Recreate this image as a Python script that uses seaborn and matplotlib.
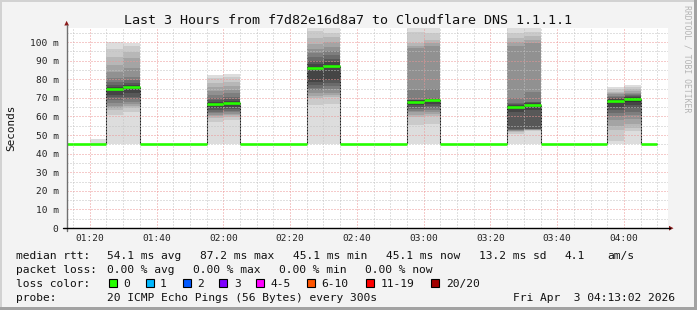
import matplotlib
matplotlib.use("Agg")
import matplotlib.pyplot as plt
import seaborn as sns
import pandas as pd
from matplotlib.patches import Rectangle, Polygon
from matplotlib.lines import Line2D

# ---------------- data ----------------
step_starts = ["01:10", "01:15", "01:20", "01:25", "01:30", "01:35", "01:40", "01:45", "01:50",
               "01:55", "02:00", "02:05", "02:10", "02:15", "02:20", "02:25", "02:30", "02:35",
               "02:40", "02:45", "02:50", "02:55", "03:00", "03:05", "03:10", "03:15", "03:20",
               "03:25", "03:30", "03:35", "03:40", "03:45", "03:50", "03:55", "04:00", "04:05"]
median_ms = [45.1, 45.1, 45.1, 74.7, 76.0, 45.1, 45.1, 45.1, 45.1,
             66.7, 67.4, 45.1, 45.1, 45.1, 45.1, 86.2, 87.2, 45.1,
             45.1, 45.1, 45.1, 67.9, 68.6, 45.1, 45.1, 45.1, 45.1,
             65.2, 66.1, 45.1, 45.1, 45.1, 45.1, 68.5, 69.2, 45.1]

smoke_steps = ["01:20", "01:25", "01:30", "01:55", "02:00", "02:25", "02:30",
               "02:55", "03:00", "03:25", "03:30", "03:55", "04:00"]
smoke_pings = [
    [45.1, 45.1, 45.1, 45.1, 45.1, 45.1, 45.1, 45.1, 45.1, 45.1, 45.1, 45.1, 45.1, 45.1, 45.1, 45.1, 45.1, 45.1, 45.1, 47.8],
    [45.1, 60.8, 63.4, 64.5, 65.5, 67.0, 69.0, 70.5, 71.5, 74.2, 75.2, 76.0, 76.9, 78.5, 80.5, 84.0, 87.6, 92.0, 96.1, 100.2],
    [45.1, 62.5, 64.3, 65.5, 66.5, 68.0, 69.5, 70.6, 72.5, 75.3, 76.3, 77.0, 77.8, 79.5, 81.4, 86.0, 91.2, 94.5, 97.8, 99.6],
    [45.1, 57.2, 59.0, 60.0, 60.8, 61.8, 62.6, 63.4, 64.5, 66.2, 67.2, 67.8, 68.8, 70.0, 71.5, 73.5, 75.6, 78.0, 80.5, 82.3],
    [45.1, 58.0, 59.5, 60.5, 61.3, 62.2, 63.0, 64.0, 65.2, 67.0, 67.8, 68.4, 69.2, 70.5, 72.4, 74.2, 76.3, 78.5, 81.0, 82.8],
    [45.1, 66.1, 69.7, 71.0, 72.4, 74.0, 75.5, 77.0, 78.7, 85.5, 86.8, 88.0, 90.0, 91.8, 94.0, 96.1, 99.0, 102.0, 106.0, 107.3],
    [45.1, 66.7, 70.6, 71.5, 72.4, 74.5, 76.5, 78.0, 79.6, 86.6, 87.6, 89.0, 90.7, 93.0, 95.0, 97.5, 100.0, 102.5, 104.7, 107.3],
    [45.1, 55.4, 59.8, 61.0, 62.2, 63.0, 64.0, 65.0, 66.0, 67.5, 68.3, 68.6, 68.8, 69.0, 74.2, 96.8, 98.0, 99.5, 105.2, 107.7],
    [45.1, 56.0, 60.0, 61.3, 62.5, 63.5, 64.5, 65.5, 66.5, 68.2, 69.0, 69.3, 69.5, 69.7, 74.6, 98.0, 99.5, 101.0, 105.0, 107.7],
    [45.1, 50.5, 51.5, 52.0, 52.3, 52.5, 52.7, 53.0, 62.5, 64.8, 65.6, 66.0, 66.5, 67.0, 69.7, 98.0, 100.0, 102.0, 105.0, 107.7],
    [45.1, 52.2, 52.6, 52.8, 52.9, 53.0, 53.1, 53.4, 63.4, 65.5, 66.4, 67.0, 67.5, 68.0, 73.3, 99.3, 101.0, 103.0, 105.5, 107.7],
    [45.1, 47.0, 52.7, 55.0, 58.0, 60.0, 61.7, 63.5, 65.2, 67.5, 68.8, 69.5, 70.0, 70.5, 71.0, 72.0, 72.5, 73.3, 74.5, 75.6],
    [45.1, 52.0, 54.0, 56.0, 58.5, 60.5, 62.5, 64.5, 66.0, 68.0, 69.6, 70.2, 70.8, 71.5, 72.0, 72.8, 73.5, 74.5, 75.8, 76.9],
]

x_ticks = ["01:20", "01:40", "02:00", "02:20", "02:40", "03:00", "03:20", "03:40", "04:00"]
y_ticks = [0, 10, 20, 30, 40, 50, 60, 70, 80, 90, 100]
y_tick_labels = ["0", "10 m", "20 m", "30 m", "40 m", "50 m", "60 m", "70 m", "80 m", "90 m", "100 m"]
x_start, x_end = "01:13:02", "04:13:02"
step_minutes = 5

title = "Last 3 Hours from f7d82e16d8a7 to Cloudflare DNS 1.1.1.1"
loss_labels = ["0", "1", "2", "3", "4-5", "6-10", "11-19", "20/20"]
loss_colors = ["#26ff00", "#00b8ff", "#0059ff", "#7e00ff", "#ff00ff", "#ff5500", "#ff0000", "#a10000"]


def to_min(s):
    parts = [int(p) for p in s.split(":")]
    m = parts[0] * 60 + parts[1]
    if len(parts) > 2:
        m += parts[2] / 60.0
    return m


# ---------------- figure ----------------
W, H = 697, 310
plt.rcParams["lines.scale_dashes"] = False
sns.set_style("white")
plt.rcParams["font.family"] = ["DejaVu Sans Mono", "DejaVu Sans"]

fig = plt.figure(figsize=(W / 100, H / 100), dpi=100, facecolor="#f3f3f3")


def fx(x):
    return x / W


def fy(y):
    return 1 - y / H


L, R, T, B = 66.5, 667.5, 27.5, 228.0
ax = fig.add_axes([fx(L), fy(B), fx(R) - fx(L), fy(T) - fy(B)])
ax.set_facecolor("white")

# smoke
for st, pings in zip(smoke_steps, smoke_pings):
    p = sorted(pings)
    n = len(p)
    half = n // 2
    for i in range(half):
        g = int(190 / half * (half - (i + 1))) + 50
        col = "#%02x%02x%02x" % (g, g, g)
        ax.bar(to_min(st), p[n - 1 - i] - p[i], bottom=p[i], width=step_minutes,
               align="edge", color=col, linewidth=0, zorder=1)

# thin dark median step line
t_starts = [to_min(s) for s in step_starts]
line_df = pd.DataFrame({"t": t_starts + [t_starts[-1] + step_minutes],
                        "m": median_ms + [median_ms[-1]]})
sns.lineplot(data=line_df, x="t", y="m", estimator=None, drawstyle="steps-post",
             color="#202020", lw=0.75, ax=ax, zorder=2)

# green median segments
rows = []
for k, (t, m) in enumerate(zip(t_starts, median_ms)):
    rows.append({"t": t, "m": m, "step": k})
    rows.append({"t": t + step_minutes, "m": m, "step": k})
med_df = pd.DataFrame(rows)
sns.lineplot(data=med_df, x="t", y="m", units="step", estimator=None, sort=False,
             color=loss_colors[0], lw=1.9, solid_capstyle="butt", ax=ax, zorder=4)

ax.set_xlabel("")
ax.set_ylabel("")

# ticks & grid
ax.set_xticks([to_min(s) for s in x_ticks])
ax.set_xticklabels(x_ticks)
ax.set_xticks(t_starts + [t_starts[-1] + step_minutes], minor=True)
ax.set_yticks(y_ticks)
ax.set_yticklabels(y_tick_labels)
ax.set_yticks([5 + 10 * k for k in range(11)], minor=True)
ax.set_xlim(to_min(x_start), to_min(x_end))
ax.set_ylim(0, 107.8)

ax.set_axisbelow(False)
dots = (0, (0.72, 1.44))
ax.grid(which="major", color="#ec9696", lw=0.72, linestyle=dots)
ax.grid(which="minor", color="#c2c2c2", lw=0.72, linestyle=dots)

ax.tick_params(axis="both", which="major", labelsize=6.8, colors="#222222",
               length=2.2, width=0.7, direction="out")
ax.tick_params(axis="y", which="major", pad=3.5, color="#777777")
ax.tick_params(axis="x", which="major", pad=2.0, color="#777777")
ax.tick_params(axis="both", which="minor", length=1.4, width=0.7, color="#999999")
for lab in ax.get_xticklabels() + ax.get_yticklabels():
    lab.set_fontfamily("DejaVu Sans Mono")

for s in ax.spines.values():
    s.set_visible(False)

# axis lines with arrows (figure pixel coords)
fig.add_artist(Line2D([fx(L), fx(L)], [fy(231), fy(25)], color="#707070", lw=1.0))
fig.add_artist(Line2D([fx(63), fx(670)], [fy(B), fy(B)], color="#000000", lw=1.0))
fig.add_artist(Polygon([[fx(64.3), fy(25.5)], [fx(69), fy(25.5)], [fx(66.6), fy(20.8)]],
                       closed=True, color="#8b1a1a", lw=0))
fig.add_artist(Polygon([[fx(669), fy(225.8)], [fx(669), fy(230.6)], [fx(673.5), fy(228.2)]],
                       closed=True, color="#8b1a1a", lw=0))

# title & labels
fig.text(fx(348), fy(23.5), title, ha="center", va="baseline", fontsize=9.6,
         fontfamily="DejaVu Sans Mono", color="#111111")
fig.text(fx(11), fy(127.5), "Seconds", rotation=90, ha="center", va="center",
         fontsize=7.9, fontfamily="DejaVu Sans Mono", color="#111111")
fig.text(fx(687.5), fy(59), "RRDTOOL / TOBI OETIKER", rotation=270, ha="center",
         va="center", fontsize=5.9, fontfamily="DejaVu Sans Mono", color="#b4b4b4")

# legend rows
fs = 8.1
row_y = [258.7, 272.7, 286.7, 300.7]
row1 = [(16, "median rtt:"), (107.3, "54.1 ms avg"), (200, "87.2 ms max"),
        (293.3, "45.1 ms min"), (386, "45.1 ms now"), (479.3, "13.2 ms sd"),
        (564.3, "4.1"), (607.3, "am/s")]
row2 = [(16, "packet loss:"), (107.3, "0.00 % avg"), (193.3, "0.00 % max"),
        (279.3, "0.00 % min"), (365, "0.00 % now")]
row4 = [(16, "probe:"), (107.3, "20 ICMP Echo Pings (56 Bytes) every 300s"),
        (513.3, "Fri Apr  3 04:13:02 2026")]
for ry, row in zip([row_y[0], row_y[1], row_y[3]], [row1, row2, row4]):
    for x, s in row:
        fig.text(fx(x), fy(ry), s, ha="left", va="baseline", fontsize=fs,
                 fontfamily="DejaVu Sans Mono", color="#111111")

fig.text(fx(16), fy(row_y[2]), "loss color:", ha="left", va="baseline", fontsize=fs,
         fontfamily="DejaVu Sans Mono", color="#111111")
box_x = [108.7, 145.7, 182.7, 219.3, 256, 307.3, 365.7, 430.7]
lab_x = [123.3, 160, 197.3, 234, 270.7, 321.7, 380.7, 445.7]
for bx, lx, lab, col in zip(box_x, lab_x, loss_labels, loss_colors):
    fig.add_artist(Rectangle((fx(bx), fy(286.7)), 8 / W, 8 / H, facecolor=col,
                             edgecolor="black", lw=0.8))
    fig.text(fx(lx), fy(row_y[2]), lab, ha="left", va="baseline", fontsize=fs,
             fontfamily="DejaVu Sans Mono", color="#111111")

# frame
fig.add_artist(Rectangle((0, fy(2)), 1, 2 / H, facecolor="#d2d2d2", lw=0))
fig.add_artist(Rectangle((0, 0), 2 / W, 1, facecolor="#d2d2d2", lw=0))
fig.add_artist(Rectangle((fx(694), 0), 3 / W, 1, facecolor="#a2a2a2", lw=0))
fig.add_artist(Rectangle((0, 0), 1, 3 / H, facecolor="#a2a2a2", lw=0))

fig.savefig("out.png", dpi=100, facecolor=fig.get_facecolor())
